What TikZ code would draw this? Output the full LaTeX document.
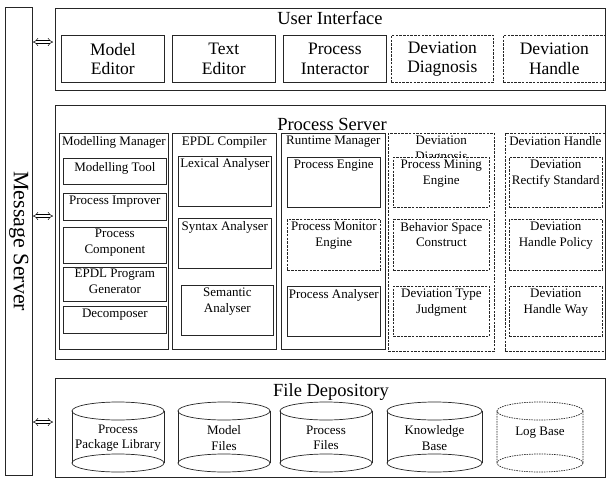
\documentclass[tikz,border=0pt]{standalone}
\usepackage{fontspec}
\setmainfont{Liberation Serif}
\usetikzlibrary{arrows.meta,positioning}

\begin{document}
\begin{tikzpicture}[x=1pt,y=-1pt,
    box/.style={draw=black!85, line width=0.7pt, inner sep=0pt, anchor=north west, fill=white},
    dbox/.style={box, dash pattern=on 2.5pt off 1.2pt},
    big/.style={font=\fontsize{17.5}{19.5}\selectfont, align=center},
    title/.style={font=\fontsize{18.5}{20}\selectfont, inner sep=0pt},
    small/.style={font=\fontsize{13}{15.5}\selectfont, align=center, inner sep=0pt},
    cyl/.style={draw=black!85, line width=0.7pt},
    dlink/.style={double, double distance=2.2pt, line width=0.5pt, {Implies}-{Implies}, shorten <=1pt, shorten >=2pt}]
    \useasboundingbox (0,0) rectangle (606,480);

    % message server
    \node[box, minimum width=27pt, minimum height=468pt] (ms) at (5,7) {};
    \node[rotate=-90, font=\fontsize{22}{24}\selectfont] (msT) at (ms.center) {Message Server};

    % user interface
    \node[box, minimum width=550pt, minimum height=82pt] (ui) at (55,8) {};
    \node[title] (uiT) at (330,18) {User Interface};
    \node[box, big, minimum width=103pt, minimum height=47pt] (medit) at (61,35) {};
    \node[big] (meditT) at (medit.center) {Model\\Editor};
    \node[box, big, minimum width=103pt, minimum height=47pt] (tedit) at (172,35) {};
    \node[big] (teditT) at (tedit.center) {Text\\Editor};
    \node[box, big, minimum width=103pt, minimum height=47pt] (pint) at (283,35) {};
    \node[big] (pintT) at (pint.center) {Process\\Interactor};
    \node[dbox, big, minimum width=102pt, minimum height=47pt] (ddiag) at (391,35) {};
    \node[big] (ddiagT) at (ddiag.center) {Deviation\\Diagnosis};
    \node[dbox, big, minimum width=102pt, minimum height=47pt] (dhand) at (503,35) {};
    \node[big] (dhandT) at (dhand.center) {Deviation\\Handle};

    % process server
    \node[box, minimum width=550pt, minimum height=254pt] (ps) at (55,105) {};
    \node[title] (psT) at (332,124) {Process Server};

    \node[box, minimum width=109pt, minimum height=216pt] (mm) at (59,133) {};
    \node[small, below=3pt of mm.north] (mmT) {Modelling Manager};
    \node[box, minimum width=104pt, minimum height=216pt] (ec) at (172,133) {};
    \node[small, below=3pt of ec.north] (ecT) {EPDL Compiler};
    \node[box, minimum width=104pt, minimum height=216pt] (rm) at (281,133) {};
    \node[small, below=3pt of rm.north] (rmT) {Runtime Manager};
    \node[dbox, minimum width=106pt, minimum height=218pt] (dd) at (388,133) {};
    \node[small, below=3pt of dd.north] (ddT) {Deviation\\Diagnosis};
    \node[dbox, minimum width=100pt, minimum height=218pt] (dh) at (505,133) {};
    \node[small, below=3pt of dh.north] (dhT) {Deviation Handle};

    % modelling manager
    \node[box, minimum width=103pt, minimum height=26pt] (tool) at (63,158) {};
    \node[small, below=4pt of tool.north] (toolT) {Modelling Tool};
    \node[box, minimum width=103pt, minimum height=27pt] (impr) at (63,193) {};
    \node[small, below=3pt of impr.north] (imprT) {Process Improver};
    \node[box, minimum width=103pt, minimum height=36pt] (comp) at (63,227) {};
    \node[small, below=2pt of comp.north] (compT) {Process\\Component};
    \node[box, minimum width=103pt, minimum height=34pt] (gen) at (63,267) {};
    \node[small, below=2pt of gen.north] (genT) {EPDL Program\\Generator};
    \node[box, minimum width=103pt, minimum height=27pt] (dec) at (63,306) {};
    \node[small, below=3pt of dec.north] (decT) {Decomposer};

    % EPDL compiler
    \node[box, minimum width=93pt, minimum height=50pt] (lex) at (178,156) {};
    \node[small, below=2pt of lex.north] (lexT) {Lexical Analyser};
    \node[box, minimum width=93pt, minimum height=50pt] (syn) at (178,218) {};
    \node[small, below=3pt of syn.north] (synT) {Syntax Analyser};
    \node[box, minimum width=92pt, minimum height=50pt] (sem) at (181,285) {};
    \node[small, below=3pt of sem.north] (semT) {Semantic\\Analyser};

    % runtime manager
    \node[box, minimum width=93pt, minimum height=50pt] (eng) at (287,157) {};
    \node[small, below=3pt of eng.north] (engT) {Process Engine};
    \node[dbox, minimum width=93pt, minimum height=51pt] (mon) at (287,219) {};
    \node[small, below=3pt of mon.north] (monT) {Process Monitor\\Engine};
    \node[box, minimum width=93pt, minimum height=50pt] (ana) at (287,286) {};
    \node[small, below=3pt of ana.north] (anaT) {Process Analyser};

    % deviation diagnosis
    \node[dbox, minimum width=96pt, minimum height=50pt] (pme) at (393,157) {};
    \node[small, below=3pt of pme.north] (pmeT) {Process Mining\\Engine};
    \node[dbox, minimum width=96pt, minimum height=51pt] (bsc) at (393,219) {};
    \node[small, below=3pt of bsc.north] (bscT) {Behavior Space\\Construct};
    \node[dbox, minimum width=96pt, minimum height=50pt] (dtj) at (393,286) {};
    \node[small, below=3pt of dtj.north] (dtjT) {Deviation Type\\Judgment};

    % deviation handle
    \node[dbox, minimum width=93pt, minimum height=50pt] (drs) at (509,157) {};
    \node[small, below=3pt of drs.north] (drsT) {Deviation\\Rectify Standard};
    \node[dbox, minimum width=93pt, minimum height=51pt] (dhp) at (509,219) {};
    \node[small, below=3pt of dhp.north] (dhpT) {Deviation\\Handle Policy};
    \node[dbox, minimum width=93pt, minimum height=50pt] (dhw) at (509,286) {};
    \node[small, below=3pt of dhw.north] (dhwT) {Deviation\\Handle Way};

    % file depository
    \node[box, minimum width=550pt, minimum height=99pt] (fd) at (55,378) {};
    \node[title] (fdT) at (331,392) {File Depository};
    \foreach \n/\cx/\rx/\txt in {ppl/118/46/{Process\\Package Library},
                               mf/224/46/{Model\\Files},
                               pf/326/46/{Process\\Files},
                               kb/434.5/47.5/{Knowledge\\Base}}{
        \draw[cyl] (\cx,411) ellipse [x radius=\rx, y radius=9];
        \draw[cyl] (\cx,463) ellipse [x radius=\rx, y radius=9];
        \draw[cyl] (\cx-\rx,411) -- (\cx-\rx,463) (\cx+\rx,411) -- (\cx+\rx,463);
        \node[small] (\n) at (\cx,438) {\txt};
    }
    \draw[cyl, dash pattern=on 1.5pt off 1pt] (540,411) ellipse [x radius=43, y radius=9]
        (540,463) ellipse [x radius=43, y radius=9]
        (497,411) -- (497,463) (583,411) -- (583,463);
    \node[small] (lb) at (540,433) {Log Base};

    % links to the message server
    \coordinate (uiA) at (32,42);
    \coordinate (psA) at (32,216);
    \coordinate (fdA) at (32,422);
    \draw[dlink] (uiA) -- (ui.west |- uiA);
    \draw[dlink] (psA) -- (ps.west |- psA);
    \draw[dlink] (fdA) -- (fd.west |- fdA);
\end{tikzpicture}
\end{document}
